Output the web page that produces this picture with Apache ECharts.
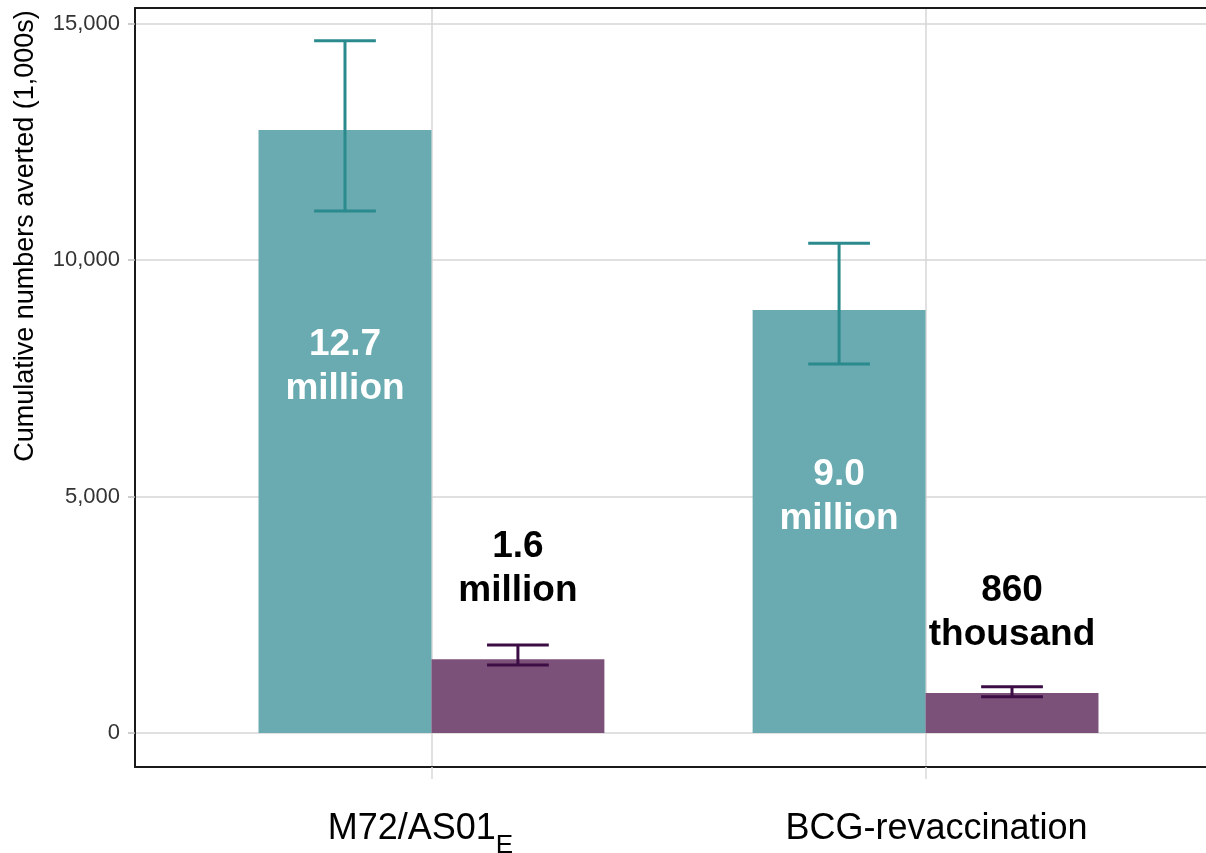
<!DOCTYPE html>
<html><head><meta charset="utf-8">
<script src="https://cdn.jsdelivr.net/npm/echarts@6/dist/echarts.min.js"></script>
<style>html,body{margin:0;padding:0;background:#fff}#c{width:1206px;height:853px}</style>
</head><body><div id="c"></div>
<script>
// ---- data ----
const categoryNames = ['M72/AS01', 'BCG-revaccination'];
const categorySubs = ['E', ''];
const tealValues = [12751, 8945];
const tealLow = [11038, 7803];
const tealHigh = [14640, 10355];
const purpleValues = [1560, 845];
const purpleLow = [1438, 768];
const purpleHigh = [1861, 980];
const tealLabels = ['12.7\nmillion', '9.0\nmillion'];
const purpleLabels = ['1.6\nmillion', '860\nthousand'];
const tealLabelAt = [7741, 4990];
const purpleLabelAt = [3480, 2540];
const yTicks = [0, 5000, 10000, 15000];
const yTitle = 'Cumulative numbers averted (1,000s)';

// ---- style ----
const FONT = 'Liberation Sans, Arial, Helvetica, sans-serif';
const TEAL = '#69abb0', TEAL_ERR = '#2b8a8d';
const PURPLE = '#7b5079', PURPLE_ERR = '#3c0d45';
const BORDER = { color: '#1a1a1a', width: 2 };
const BW = 0.35, CAP = 0.125;

function barSeries(values, offset, color) {
  return {
    type: 'custom', z: 2, silent: true,
    data: values.map((v, i) => [i + 1 + offset, v]),
    encode: { x: 0, y: 1 },
    renderItem: (params, api) => {
      const x = api.value(0), v = api.value(1);
      const p1 = api.coord([x - BW / 2, v]);
      const p2 = api.coord([x + BW / 2, 0]);
      return { type: 'rect', shape: { x: p1[0], y: p1[1], width: p2[0] - p1[0], height: p2[1] - p1[1] }, style: { fill: color } };
    }
  };
}
function errSeries(low, high, offset, color) {
  return {
    type: 'custom', z: 3, silent: true,
    data: low.map((lo, i) => [i + 1 + offset, lo, high[i]]),
    encode: { x: 0, y: [1, 2] },
    renderItem: (params, api) => {
      const x = api.value(0), lo = api.value(1), hi = api.value(2);
      const top = api.coord([x, hi]), bot = api.coord([x, lo]);
      const l = api.coord([x - CAP / 2, hi])[0], r = api.coord([x + CAP / 2, hi])[0];
      const st = { stroke: color, lineWidth: 3 };
      return { type: 'group', children: [
        { type: 'line', shape: { x1: top[0], y1: top[1], x2: bot[0], y2: bot[1] }, style: st },
        { type: 'line', shape: { x1: l, y1: top[1], x2: r, y2: top[1] }, style: st },
        { type: 'line', shape: { x1: l, y1: bot[1], x2: r, y2: bot[1] }, style: st }
      ] };
    }
  };
}
function labelSeries(texts, at, offset, color) {
  return {
    type: 'scatter', z: 5, silent: true, symbolSize: 0,
    itemStyle: { opacity: 1 },
    data: at.map((v, i) => [i + 1 + offset, v]),
    label: {
      show: true, position: 'inside', color: color, fontSize: 37, fontWeight: 'bold',
      fontFamily: FONT, lineHeight: 44, align: 'center', verticalAlign: 'middle',
      opacity: 1, textBorderWidth: 0,
      formatter: p => texts[p.dataIndex]
    }
  };
}

const chart = echarts.init(document.getElementById('c'));
chart.setOption({
  animation: false,
  backgroundColor: '#fff',
  grid: { left: 135, right: -16, top: 8, bottom: 86, show: false, outerBoundsMode: 'none', containLabel: false },
  xAxis: [{
    type: 'value', min: 0.4, max: 2.6, position: 'bottom',
    axisLine: { show: true, onZero: false, lineStyle: BORDER },
    axisTick: { show: true, customValues: [1, 2], length: 12, lineStyle: { color: '#d9d9d9', width: 1.5 } },
    splitLine: { show: true, lineStyle: { color: '#d6d6d6', width: 1.5 } },
    axisLabel: {
      customValues: [1, 2], margin: 44, fontFamily: FONT,
      formatter: v => {
        const i = Math.round(v) - 1;
        if (categorySubs[i]) return '{m|' + categoryNames[i] + '}{e|' + categorySubs[i] + '}';
        return '{b|' + categoryNames[i] + '}';
      },
      rich: {
        m: { fontSize: 36, lineHeight: 40, verticalAlign: 'top', color: '#000', fontFamily: FONT },
        e: { fontSize: 26, lineHeight: 28, verticalAlign: 'top', color: '#000', fontFamily: FONT, padding: [22, 22, 0, 0] },
        b: { fontSize: 36, lineHeight: 40, verticalAlign: 'top', color: '#000', fontFamily: FONT, padding: [0, 0, 0, 22] }
      }
    }
  }, {
    type: 'value', min: 0.4, max: 2.6, position: 'top',
    axisLine: { show: true, onZero: false, lineStyle: BORDER },
    axisTick: { show: false }, axisLabel: { show: false }, splitLine: { show: false }
  }],
  yAxis: {
    type: 'value', min: -719, max: 15332,
    axisLine: { show: true, onZero: false, lineStyle: BORDER },
    axisTick: { show: true, customValues: yTicks, length: 7, lineStyle: { color: '#bdbdbd', width: 1.5 } },
    splitLine: { show: true, lineStyle: { color: '#d6d6d6', width: 1.5 } },
    axisLabel: {
      customValues: yTicks, margin: 15, fontSize: 22, color: '#333', fontFamily: FONT,
      formatter: v => Number(v).toLocaleString('en-US')
    }
  },
  graphic: [{
    type: 'text', x: 26, y: 236, rotation: Math.PI / 2,
    style: { text: yTitle, fontSize: 27, fill: '#000', fontFamily: FONT, align: 'center', verticalAlign: 'middle' }
  }],
  series: [
    barSeries(tealValues, -BW / 2, TEAL),
    barSeries(purpleValues, BW / 2, PURPLE),
    errSeries(tealLow, tealHigh, -BW / 2, TEAL_ERR),
    errSeries(purpleLow, purpleHigh, BW / 2, PURPLE_ERR),
    labelSeries(tealLabels, tealLabelAt, -BW / 2, '#ffffff'),
    labelSeries(purpleLabels, purpleLabelAt, BW / 2, '#000000')
  ]
});
</script></body></html>
